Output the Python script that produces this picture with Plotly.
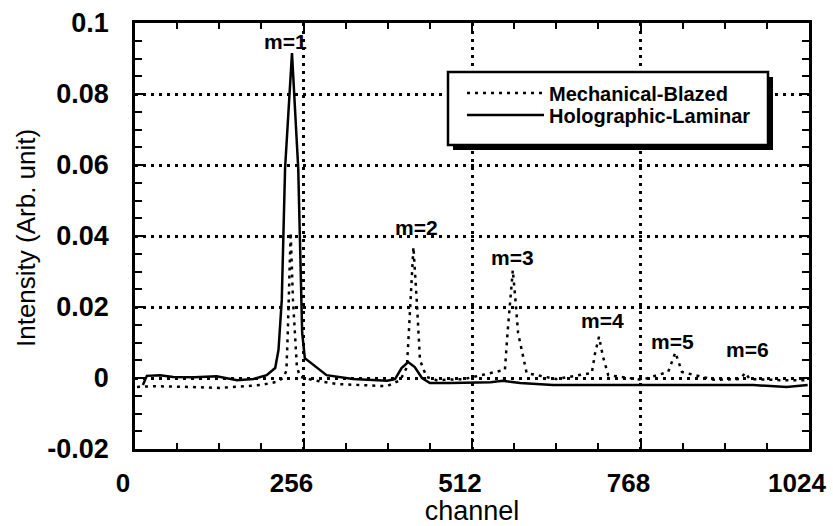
import plotly.graph_objects as go

# ---- data ----
holo_x = [12, 18, 38, 58, 90, 119, 124, 155, 180, 200, 213, 218, 223, 228, 238.5, 248, 252, 254, 258, 271, 291,
          331, 383, 395, 405, 415, 425, 436, 448, 479, 509, 540, 559, 585, 635, 737, 839, 939, 990, 1022]
holo_y = [-0.002, 0.0006, 0.0008, 0.0003, 0.0002, 0.0003, 0.0005, -0.0006, -0.0003, 0.0008, 0.0028, 0.0079,
          0.022, 0.059, 0.0915, 0.059, 0.022, 0.0127, 0.0056, 0.0037, 0.0008,
          -0.0003, -0.0008, -0.0003, 0.0028, 0.0045, 0.0031, 0.0, -0.0014, -0.0014, -0.0014, -0.0012, -0.0008,
          -0.0014, -0.002, -0.002, -0.002, -0.002, -0.0025, -0.002]

mech_x = [3, 28, 80, 129, 190, 215, 225, 230, 232, 233.5, 236.5, 240, 243, 246, 251, 271, 306, 383, 403, 413,
          416, 419, 423, 428, 433, 443, 458, 500, 562, 566, 570, 574, 578, 582, 595, 640, 694, 699, 705, 711,
          719, 770, 810, 821, 831, 880, 920, 927, 934, 980, 1022]
mech_y = [-0.0025, -0.0023, -0.0025, -0.0028, -0.002, -0.0011, 0.0, 0.002, 0.012, 0.022, 0.041, 0.022, 0.0127,
          0.003, 0.0003, -0.0006, -0.0017, -0.0023, -0.0006, 0.003,
          0.0127, 0.022, 0.0369, 0.022, 0.005, 0.0003, -0.0006, -0.0003, 0.0023, 0.0127, 0.022, 0.0304, 0.022,
          0.0127, 0.0014, -0.0003, 0.0014, 0.007, 0.0116, 0.006,
          0.0008, -0.0005, 0.0017, 0.0072, 0.0017, -0.0005, -0.0003, 0.0015, -0.0003, -0.0006, -0.0006]

order_labels = ["m=1", "m=2", "m=3", "m=4", "m=5", "m=6"]
order_x = [229, 428, 574, 710, 817, 931]
order_y = [0.0949, 0.0425, 0.034, 0.0163, 0.0104, 0.0079]

x_ticks = [0, 256, 512, 768, 1024]
y_ticks = [-0.02, 0, 0.02, 0.04, 0.06, 0.08, 0.1]
y_ticktext = ["-0.02", "0", "0.02", "0.04", "0.06", "0.08", "0.1"]

# ---- layout geometry ----
W, H = 833, 526
ML, MR, MT, MB = 135, 24, 23, 77
PW, PH = W - ML - MR, H - MT - MB


def px(xp):
    return (xp - ML) / PW


def py(yp):
    return (H - MB - yp) / PH


FONT = "Arial, Liberation Sans, Helvetica, sans-serif"
DOT = "3px,5px"
LEG_FONT = dict(family=FONT, size=20, color="black", weight="bold")

fig = go.Figure()
fig.add_trace(go.Scatter(x=mech_x, y=mech_y, mode="lines", name="Mechanical-Blazed", legend="legend",
                         line=dict(color="black", width=2.5, dash=DOT)))
fig.add_trace(go.Scatter(x=holo_x, y=holo_y, mode="lines", name="Holographic-Laminar", legend="legend2",
                         line=dict(color="black", width=2.5)))

for t, xv, yv in zip(order_labels, order_x, order_y):
    fig.add_annotation(x=xv, y=yv, text=t, showarrow=False, xanchor="center", yanchor="middle",
                       font=dict(family=FONT, size=21, color="black", weight="bold"))

# y-axis title placed as a rotated annotation
fig.add_annotation(xref="paper", yref="paper", x=px(26), y=py(238), text="Intensity (Arb. unit)",
                   textangle=-90, showarrow=False, xanchor="center", yanchor="middle",
                   font=dict(family=FONT, size=26, color="black"))

# legend box with drop shadow
fig.add_shape(type="rect", xref="paper", yref="paper", x0=px(453), x1=px(773), y0=py(150), y1=py(77),
              fillcolor="black", line=dict(width=0), layer="above")
fig.add_shape(type="rect", xref="paper", yref="paper", x0=px(448), x1=px(768), y0=py(145), y1=py(72),
              fillcolor="white", line=dict(color="black", width=2.5), layer="above")

axis_common = dict(showline=True, linecolor="black", linewidth=2.5, mirror="ticks",
                   ticks="inside", tickcolor="black", tickwidth=2,
                   showgrid=True, gridcolor="black", gridwidth=2.5, griddash=DOT,
                   zeroline=False)

fig.update_xaxes(range=[0, 1024], tickvals=x_ticks, ticklen=11,
                 tickfont=dict(family=FONT, size=26, color="black", weight="bold"),
                 ticklabelshift=-12, ticklabelstandoff=9,
                 minor=dict(dtick=64, tick0=0, ticks="inside", ticklen=6, tickwidth=2, tickcolor="black",
                            showgrid=False),
                 title=dict(text="channel", font=dict(family=FONT, size=27, color="black"), standoff=7),
                 **axis_common)
fig.update_yaxes(range=[-0.02, 0.1], tickvals=y_ticks, ticktext=y_ticktext, ticklen=8,
                 tickfont=dict(family=FONT, size=27, color="black", weight="bold"),
                 ticklabelstandoff=18,
                 minor=dict(dtick=0.005, tick0=0, ticks="inside", ticklen=7, tickwidth=2, tickcolor="black",
                            showgrid=False),
                 **axis_common)

leg_common = dict(xanchor="left", yanchor="middle", bgcolor="rgba(0,0,0,0)", borderwidth=0,
                  itemwidth=77, font=LEG_FONT)

fig.update_layout(
    width=W, height=H,
    margin=dict(l=ML, r=MR, t=MT, b=MB, autoexpand=False),
    paper_bgcolor="white", plot_bgcolor="white",
    showlegend=True,
    legend=dict(x=px(462), y=py(93), **leg_common),
    legend2=dict(x=px(462), y=py(115), **leg_common),
)

fig.write_html("out.html", config={"displayModeBar": False},
               post_script="document.body.style.margin='0';document.body.style.padding='0';")
